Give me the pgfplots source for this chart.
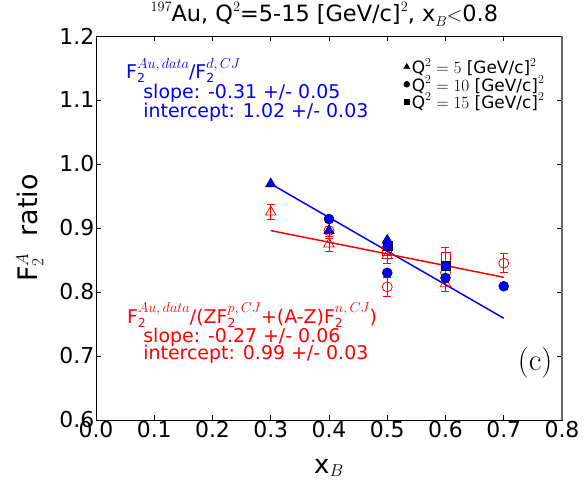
\documentclass[border=0pt]{standalone}
\usepackage{amsmath}
\usepackage{pgfplots}
\pgfplotsset{compat=1.18}
\usepackage{fontspec}
\setmainfont{DejaVu Sans}
\definecolor{myblue}{RGB}{0,0,255}
\definecolor{myred}{RGB}{255,0,0}
% F with stacked sub 2 and superscript (larger superscripts as in the reference)
\newcommand\Ftwo[1]{F\rlap{\raisebox{-0.2em}{\fontsize{12.5}{12.5}\selectfont 2}}\raisebox{0.55em}{\fontsize{13.5}{13.5}\selectfont$#1$}}
\newcommand\sps[2]{\raisebox{0.45em}{\fontsize{#1}{#1}\selectfont$#2$}}
\begin{document}
\begin{tikzpicture}
\begin{axis}[
  scale only axis, width=466bp, height=384bp,
  xmin=0, xmax=0.8, ymin=0.6, ymax=1.2,
  xtick={0,0.1,...,0.8}, ytick={0.6,0.7,...,1.2},
  xticklabel style={/pgf/number format/.cd,fixed,fixed zerofill,precision=1},
  yticklabel style={/pgf/number format/.cd,fixed,fixed zerofill,precision=1},
  /pgf/number format/assume math mode=true,
  ticklabel style={font=\fontsize{22}{23}\selectfont, inner sep=1.5pt},
  tick align=inside, major tick length=5bp, tick style={black, line width=0.6pt},
  axis line style={line width=0.8pt},
  clip=false,
  xlabel={x$_B$}, ylabel={F$_2^A$\ \ ratio},
  xlabel style={font=\fontsize{26}{28}\selectfont, at={(axis description cs:0.5,-0.125)}, anchor=center},
  ylabel style={font=\fontsize{27}{28}\selectfont, at={(axis description cs:-0.142,0.5)}, anchor=center},
  title={\sps{15}{197}Au, Q\sps{15}{2}=5-15 [GeV/c]\sps{15}{2}, x\raisebox{-0.25em}{\fontsize{15}{15}\selectfont$B$}$<$0.8},
  title style={font=\fontsize{22.5}{23}\selectfont, at={(axis description cs:0.49,1)}, anchor=south, yshift=0bp, inner sep=3pt},
  legend style={at={(rel axis cs:0.66,0.947)}, anchor=north west, draw=none, fill=none,
    font=\fontsize{17}{17}\selectfont, row sep=-3.5pt, inner sep=0pt, cells={anchor=west}},
  legend image code/.code={\draw[#1,mark repeat=2,mark phase=2] plot coordinates {(0cm,0cm) (0.05cm,0cm) (0.1cm,0cm)};},
]
% legend entries
\addlegendimage{only marks, mark=triangle*, mark size=3.5bp, black}
\addlegendentry{Q\sps{12.5}{2} $=5$ [GeV/c]\sps{12.5}{2}}
\addlegendimage{only marks, mark=*, mark size=3bp, black}
\addlegendentry{Q\sps{12.5}{2} $=10$ [GeV/c]\sps{12.5}{2}}
\addlegendimage{only marks, mark=square*, mark size=2.8bp, black}
\addlegendentry{Q\sps{12.5}{2} $=15$ [GeV/c]\sps{12.5}{2}}

% red (ZF_p + (A-Z)F_n) ratios, open markers with error bars
\addplot[forget plot, only marks, myred, mark=triangle, mark size=6bp, mark options={line width=0.8pt},
  error bars/.cd, y dir=both, y explicit, error bar style={line width=0.8pt}, error mark options={rotate=90, mark size=4bp, line width=0.8pt}]
  coordinates {(0.3,0.925) +- (0,0.012) (0.4,0.875) +- (0,0.012) (0.5,0.857) +- (0,0.012) (0.6,0.813) +- (0,0.012)};
\addplot[forget plot, only marks, myred, mark=o, mark size=5bp, mark options={line width=0.8pt},
  error bars/.cd, y dir=both, y explicit, error bar style={line width=0.8pt}, error mark options={rotate=90, mark size=4bp, line width=0.8pt}]
  coordinates {(0.4,0.896) +- (0,0.012) (0.5,0.808) +- (0,0.015) (0.6,0.830) +- (0,0.015) (0.7,0.845) +- (0,0.015)};
\addplot[forget plot, only marks, myred, mark=square, mark size=4.5bp, mark options={line width=0.8pt},
  error bars/.cd, y dir=both, y explicit, error bar style={line width=0.8pt}, error mark options={rotate=90, mark size=4bp, line width=0.8pt}]
  coordinates {(0.5,0.865) +- (0,0.012) (0.6,0.855) +- (0,0.015)};

% blue (F2 Au / F2 d) ratios
\addplot[forget plot, only marks, mark=square*, mark size=4.5bp, draw=black, fill=myblue]
  coordinates {(0.5,0.872) (0.6,0.841)};
\addplot[forget plot, only marks, mark=triangle*, mark size=6bp, draw=black, fill=myblue]
  coordinates {(0.3,0.969) (0.4,0.896) (0.5,0.881)};
\addplot[forget plot, only marks, mark=*, mark size=5bp, draw=black, fill=myblue]
  coordinates {(0.4,0.914) (0.5,0.830) (0.6,0.822) (0.7,0.809)};

% fits
\addplot[forget plot, myblue, line width=1.5pt] coordinates {(0.3,0.969) (0.7,0.759)};
\addplot[forget plot, myred, line width=1.5pt] coordinates {(0.3,0.896) (0.7,0.823)};

% right spine in grey
\draw[gray!80!black, line width=1.2pt] (rel axis cs:1,0) -- (rel axis cs:1,1);

% annotations
\node[anchor=west, myblue, font=\fontsize{19}{19}\selectfont, inner sep=0pt] at (axis cs:0.0515,1.146) {\Ftwo{Au,data}/\Ftwo{d,CJ}};
\node[anchor=west, myblue, font=\fontsize{19}{19}\selectfont, inner sep=0pt] at (axis cs:0.081,1.111) {slope: -0.31 +/- 0.05};
\node[anchor=west, myblue, font=\fontsize{19}{19}\selectfont, inner sep=0pt] at (axis cs:0.081,1.081) {intercept: 1.02 +/- 0.03};
\node[anchor=west, myred, font=\fontsize{19}{19}\selectfont, inner sep=0pt] at (axis cs:0.053,0.764) {\Ftwo{Au,data}/(Z\Ftwo{p,CJ}+(A-Z)\Ftwo{n,CJ})};
\node[anchor=west, myred, font=\fontsize{19}{19}\selectfont, inner sep=0pt] at (axis cs:0.081,0.730) {slope: -0.27 +/- 0.06};
\node[anchor=west, myred, font=\fontsize{19}{19}\selectfont, inner sep=0pt] at (axis cs:0.081,0.702) {intercept: 0.99 +/- 0.03};
\node[font=\fontsize{31}{32}\fontfamily{lmr}\selectfont, inner sep=0pt] at (axis cs:0.754,0.69) {(c)};
\end{axis}
\pgfresetboundingbox
\path (current axis.south west) ++(-96bp,-66bp) rectangle ++(584bp,486bp);
\end{tikzpicture}
\end{document}
